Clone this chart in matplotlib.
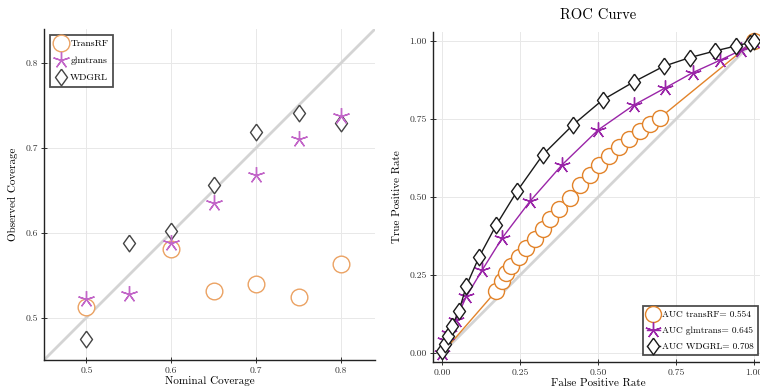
import numpy as np
import matplotlib
matplotlib.use("Agg")
import matplotlib.pyplot as plt

plt.rcParams['font.family'] = 'serif'
plt.rcParams['font.serif'] = ['cmr10', 'DejaVu Serif']
plt.rcParams['mathtext.fontset'] = 'cm'
plt.rcParams['axes.formatter.use_mathtext'] = True

# --- coverage panel ---
nominal = [0.50, 0.55, 0.60, 0.65, 0.70, 0.75, 0.80]
cov_transrf = [0.513, np.nan, 0.581, 0.531, 0.539, 0.524, 0.563]
cov_glmtrans = [0.522, 0.528, 0.588, 0.635, 0.668, 0.710, 0.737]
cov_wdgrl = [0.475, 0.588, 0.602, 0.656, 0.719, 0.741, 0.729]

# --- ROC panel ---
fpr_transrf = [0.0, 0.173, 0.193, 0.203, 0.221, 0.246, 0.270, 0.296, 0.323, 0.347,
               0.374, 0.411, 0.441, 0.473, 0.503, 0.535, 0.567, 0.599, 0.633, 0.667,
               0.697, 1.0]
tpr_transrf = [0.0, 0.199, 0.231, 0.255, 0.279, 0.309, 0.335, 0.364, 0.398, 0.431,
               0.462, 0.498, 0.539, 0.570, 0.604, 0.631, 0.660, 0.687, 0.711, 0.734,
               0.753, 1.0]
fpr_glmtrans = [0.0, 0.010, 0.020, 0.043, 0.077, 0.128, 0.193, 0.281, 0.385, 0.500,
                0.615, 0.714, 0.804, 0.890, 0.959, 1.0]
tpr_glmtrans = [0.0, 0.040, 0.065, 0.106, 0.181, 0.266, 0.370, 0.486, 0.604, 0.715,
                0.795, 0.849, 0.899, 0.938, 0.971, 1.0]
fpr_wdgrl = [0.0, 0.007, 0.017, 0.030, 0.053, 0.077, 0.118, 0.173, 0.240, 0.323,
             0.419, 0.514, 0.614, 0.710, 0.794, 0.874, 0.941, 0.986, 1.0]
tpr_wdgrl = [0.005, 0.030, 0.055, 0.085, 0.133, 0.215, 0.308, 0.410, 0.519, 0.636,
             0.731, 0.811, 0.869, 0.919, 0.947, 0.968, 0.984, 0.995, 1.0]
auc_labels = ['AUC transRF= 0.554', 'AUC glmtrans= 0.645', 'AUC WDGRL= 0.708']

# asterisk with 5 arms, and a diamond taller than wide
star = (5, 2, 0)
diamond = [(0, 1), (0.72, 0), (0, -1), (-0.72, 0), (0, 1)]


def style_axes(ax):
    for s in ['top', 'right']:
        ax.spines[s].set_visible(False)
    for s in ['left', 'bottom']:
        ax.spines[s].set_linewidth(1.0)
        ax.spines[s].set_color('#222222')
    ax.grid(True, color='#e8e8e8', linewidth=0.7)
    ax.set_axisbelow(True)
    ax.tick_params(direction='inout', length=5, width=0.7, labelsize=7, pad=2,
                   colors='#333333', labelcolor='#333333')


fig = plt.figure(figsize=(7.6, 3.9), dpi=100)

ax1 = fig.add_axes([44 / 760, 30 / 390, 331 / 760, 331 / 390])
style_axes(ax1)
ax1.plot([0.45, 0.84], [0.45, 0.84], color='#d4d4d4', linewidth=2, zorder=1)
ax1.plot(nominal, cov_transrf, linestyle='none', marker='o', markersize=12,
         markerfacecolor='white', markeredgecolor='#eba263', markeredgewidth=1.0,
         label='TransRF', zorder=3)
ax1.plot(nominal, cov_glmtrans, linestyle='none', marker=star, markersize=12,
         markeredgecolor='#c266c8', markeredgewidth=1.0, label='glmtrans', zorder=4)
ax1.plot(nominal, cov_wdgrl, linestyle='none', marker=diamond, markersize=12,
         markerfacecolor='white', markeredgecolor='#444444', markeredgewidth=1.0,
         label='WDGRL', zorder=3)
ax1.set_xlim(0.45, 0.84)
ax1.set_ylim(0.45, 0.84)
ax1.set_xticks([0.5, 0.6, 0.7, 0.8])
ax1.set_yticks([0.5, 0.6, 0.7, 0.8])
ax1.set_xticklabels(['0.5', '0.6', '0.7', '0.8'])
ax1.set_yticklabels(['0.5', '0.6', '0.7', '0.8'])
ax1.set_xlabel('Nominal Coverage', fontsize=8, labelpad=1)
ax1.set_ylabel('Observed Coverage', fontsize=8, labelpad=5)
leg1 = ax1.legend(loc='upper left', fontsize=7, frameon=True, fancybox=False,
                  borderpad=0.45, handlelength=1.4, handletextpad=0.25,
                  labelspacing=0.85, borderaxespad=0.6)
leg1.get_frame().set_edgecolor('#222222')
leg1.get_frame().set_linewidth(1.3)

ax2 = fig.add_axes([433 / 760, 27.7 / 390, 330.3 / 760, 330.6 / 390])
style_axes(ax2)
ax2.plot([0, 1], [0, 1], color='#d4d4d4', linewidth=2, zorder=1)
ax2.plot(fpr_transrf, tpr_transrf, color='#e2832a', linewidth=1.0, marker='o',
         markersize=11.5, markerfacecolor='white', markeredgecolor='#e2832a',
         markeredgewidth=1.0, markevery=list(range(1, len(fpr_transrf))),
         label=auc_labels[0], zorder=3)
ax2.plot(fpr_glmtrans, tpr_glmtrans, color='#9a25a8', linewidth=1.0, marker=star,
         markersize=11.5, markeredgecolor='#9a25a8', markeredgewidth=1.0,
         label=auc_labels[1], zorder=4)
ax2.plot(fpr_wdgrl, tpr_wdgrl, color='#1a1a1a', linewidth=1.0, marker=diamond,
         markersize=12, markerfacecolor='white', markeredgecolor='#1a1a1a',
         markeredgewidth=1.0, label=auc_labels[2], zorder=5)
ax2.set_xlim(-0.03, 1.03)
ax2.set_ylim(-0.03, 1.03)
ticks = [0.0, 0.25, 0.5, 0.75, 1.0]
ax2.set_xticks(ticks)
ax2.set_yticks(ticks)
ax2.set_xticklabels([f'{t:.2f}' for t in ticks])
ax2.set_yticklabels([f'{t:.2f}' for t in ticks])
ax2.set_xlabel('False Positive Rate', fontsize=8, labelpad=1)
ax2.set_ylabel('True Positive Rate', fontsize=8, labelpad=5)
ax2.set_title('ROC Curve', fontsize=10.5, pad=9)
leg2 = ax2.legend(loc='lower right', fontsize=6.7, frameon=True, fancybox=False,
                  borderpad=0.45, handlelength=1.4, handletextpad=0.25,
                  labelspacing=0.8, borderaxespad=0,
                  bbox_to_anchor=(758 / 760, 35 / 390), bbox_transform=fig.transFigure)
leg2.get_frame().set_edgecolor('#222222')
leg2.get_frame().set_linewidth(1.3)

fig.savefig('out.png', dpi=100)
